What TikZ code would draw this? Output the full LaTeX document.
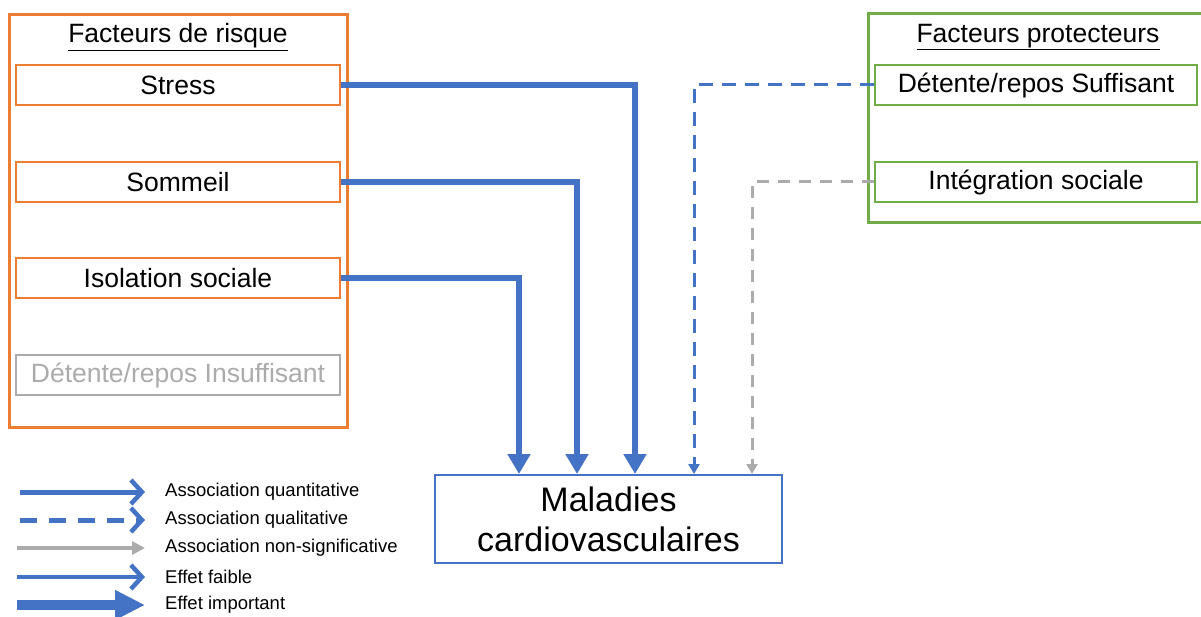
\documentclass[tikz,border=0pt]{standalone}
\usepackage{fontspec}
\setmainfont{Liberation Sans}
\usetikzlibrary{arrows.meta, positioning}
\definecolor{bluearr}{HTML}{4472C4}
\definecolor{orangebox}{HTML}{ED7D31}
\definecolor{greenbox}{HTML}{70AD47}
\definecolor{greyarr}{HTML}{ABABAB}
\tikzset{
  label font/.style={font=\fontsize{26.5}{30}\selectfont},
  riskfactor/.style={draw=orangebox, line width=2pt, minimum width=324pt,
    minimum height=40pt, inner sep=0pt, label font}, % inner boxes, left
  protfactor/.style={draw=greenbox, line width=2pt, minimum width=322pt,
    minimum height=40pt, inner sep=0pt, label font}, % inner boxes, right
  legend text/.style={anchor=west, inner sep=0pt,
    font=\fontsize{18.5}{22}\selectfont},
  strong/.style={bluearr, line width=6.5pt,
    -{Triangle[width=22pt,length=20pt]}}, % effet important
  quali/.style={bluearr, line width=3pt, dash pattern=on 14pt off 9pt,
    -{Triangle[width=11pt,length=10pt]}},
  nonsig/.style={greyarr, line width=3pt, dash pattern=on 12pt off 9pt,
    -{Triangle[width=11pt,length=10pt]}},
  chevron/.style={-{Straight Barb[width=24pt,length=11pt,line width=4.5pt,
    sharp]}},
}
\begin{document}
\begin{tikzpicture}[x=1pt, y=-1pt]
    \useasboundingbox (0,0) rectangle (1201,617);

    % left frame
    \node[draw=orangebox, line width=3pt, minimum width=338pt,
      minimum height=412pt, inner sep=0pt] (riskframe) at (178,221) {};
    \node[label font] (riskhead) at (178,37) {\underline{Facteurs de risque}};
    \node[riskfactor] (stress) at (178,85) {Stress};
    \node[riskfactor] (sommeil) at (178,182) {Sommeil};
    \node[riskfactor] (isolation) at (178,278) {Isolation sociale};
    \node[riskfactor, draw=greyarr, text=greyarr] (insuff) at (178,375)
    {Détente/repos Insuffisant};

    % right frame
    \node[draw=greenbox, line width=3pt, minimum width=345pt,
      minimum height=209pt, inner sep=0pt] (protframe) at (1040.5,118.5) {};
    \node[label font] (prothead) at (1038,37) {\underline{Facteurs protecteurs}};
    \node[protfactor] (suff) at (1036,85) {Détente/repos Suffisant};
    \node[protfactor] (integ) at (1036,182) {Intégration sociale};

    % outcome
    \node[draw=bluearr, line width=2pt, minimum width=347pt,
      minimum height=88pt, inner sep=0pt, align=center,
      font=\fontsize{34}{40}\selectfont] (maladies) at (608.5,519)
    {Maladies\\cardiovasculaires};

    \draw[strong] (stress.east) -| ([xshift=201pt]maladies.north west);
    \draw[strong] (sommeil.east) -| ([xshift=143pt]maladies.north west);
    \draw[strong] (isolation.east) -| ([xshift=85pt]maladies.north west);
    \draw[quali] (suff.west) -| ([xshift=260pt]maladies.north west);
    \draw[nonsig] (integ.west) -| ([xshift=318pt]maladies.north west);

    % legend
    \node[legend text] (leg1) at (165,492) {Association quantitative};
    \node[legend text] (leg2) at (165,520) {Association qualitative};
    \node[legend text] (leg3) at (165,548) {Association non-significative};
    \node[legend text] (leg4) at (165,577) {Effet faible};
    \node[legend text] (leg5) at (165,605) {Effet important};
    \coordinate (l1) at (20,492);
    \coordinate (l2) at (20,520);
    \coordinate (l3) at (17,548);
    \coordinate (l4) at (17,577);
    \coordinate (l5) at (17,605);

    \draw[bluearr, line width=5pt, chevron]
      (l1) -- ([xshift=-20pt]leg1.west);
    \draw[bluearr, line width=5pt, dash pattern=on 17pt off 12pt, chevron]
      (l2) -- ([xshift=-20pt]leg2.west);
    \draw[greyarr, line width=4pt, -{Triangle[width=13pt,length=13pt]}]
      (l3) -- ([xshift=-20pt]leg3.west);
    \draw[bluearr, line width=4pt, chevron]
      (l4) -- ([xshift=-20pt]leg4.west);
    \draw[bluearr, line width=10pt, -{Triangle[width=28pt,length=30pt]}]
      (l5) -- ([xshift=-20pt]leg5.west);
\end{tikzpicture}
\end{document}
